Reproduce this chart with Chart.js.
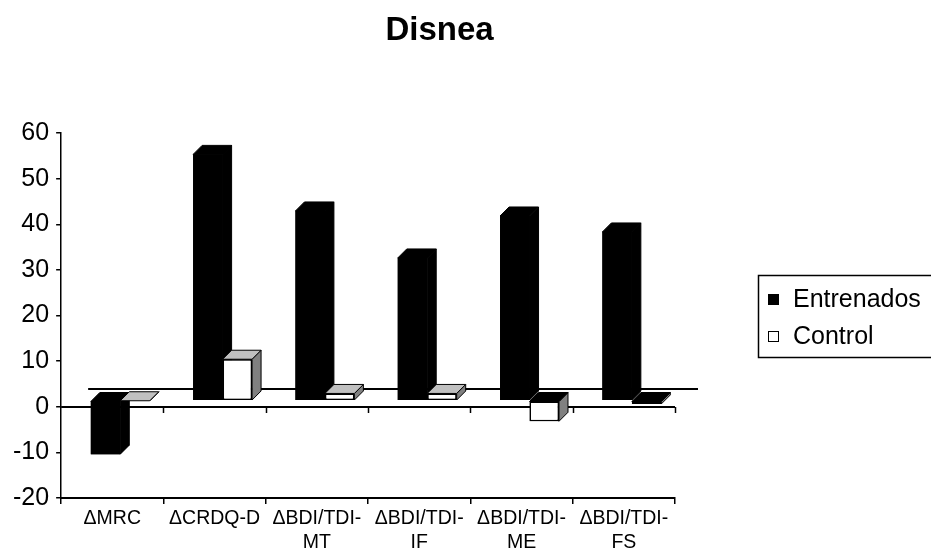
<!DOCTYPE html>
<html>
<head>
<meta charset="utf-8">
<script src="https://cdn.jsdelivr.net/npm/chart.js@4.4.0/dist/chart.umd.min.js"></script>
<style>
html,body{margin:0;padding:0;background:#fff;}
#wrap{width:931px;height:553px;}
</style>
</head>
<body>
<div id="wrap"><canvas id="c" width="931" height="553"></canvas></div>
<script>
// ---- data ----
const chartTitle = "Disnea";
const categories = [["ΔMRC"], ["ΔCRDQ-D"], ["ΔBDI/TDI-", "MT"], ["ΔBDI/TDI-", "IF"], ["ΔBDI/TDI-", "ME"], ["ΔBDI/TDI-", "FS"]];
const seriesNames = ["Entrenados", "Control"];
const entrenados = [-11.7, 54.0, 41.6, 31.3, 40.5, 37.0];
const control = [0, 9.1, 1.6, 1.6, -4.5, -0.7];
const yMin = -20, yMax = 60, yStep = 10;

// ---- styling ----
const FONT = "'Liberation Sans', Arial, sans-serif";
const SHIFT = {dx: 8, dy: -6};   // front face offset of bars (3D depth placement)
const DEPTH = {dx: 9, dy: -9};   // bar depth
const faceColors = [
  {top: '#000000', side: '#000000', capNeg: '#000000'},
  {top: '#c0c0c0', side: '#808080', capNeg: '#000000'}
];

function poly(ctx, pts, fill) {
  ctx.beginPath();
  ctx.moveTo(pts[0][0], pts[0][1]);
  for (let i = 1; i < pts.length; i++) ctx.lineTo(pts[i][0], pts[i][1]);
  ctx.closePath();
  ctx.fillStyle = fill;
  ctx.fill();
  ctx.stroke();
}

const threeD = {
  id: 'threeD',
  beforeDatasetsDraw(chart) {
    const ctx = chart.ctx, a = chart.chartArea, ys = chart.scales.y, xs = chart.scales.x;
    const y0 = Math.round(ys.getPixelForValue(0));
    ctx.save();
    ctx.strokeStyle = '#000';
    ctx.lineWidth = 2;
    // back edge of floor
    ctx.beginPath();
    ctx.moveTo(a.left + 27, y0 - 18);
    ctx.lineTo(a.right + 23, y0 - 18);
    ctx.stroke();
    // zero line (front edge of floor)
    ctx.beginPath();
    ctx.moveTo(a.left, y0);
    ctx.lineTo(a.right, y0);
    ctx.stroke();
    ctx.lineWidth = 1.5;
    for (let i = 0; i < categories.length; i++) {
      const px = Math.round(xs.getPixelForValue(i + 0.5)) + 0.5;
      ctx.beginPath();
      ctx.moveTo(px, y0);
      ctx.lineTo(px, y0 + 6);
      ctx.stroke();
    }
    ctx.restore();
  },
  beforeDatasetDraw() { return false; },
  afterDatasetsDraw(chart) {
    const ctx = chart.ctx;
    ctx.save();
    ctx.translate(SHIFT.dx, SHIFT.dy);
    chart.data.datasets.forEach((ds, di) => {
      const meta = chart.getDatasetMeta(di);
      const fc = faceColors[di];
      meta.data.forEach((el, i) => {
        el.draw(ctx);
        const p = el.getProps(['x', 'y', 'base', 'width'], true);
        const l = p.x - p.width / 2, r = p.x + p.width / 2;
        const v = ds.data[i];
        const top = Math.min(p.y, p.base), bot = Math.max(p.y, p.base);
        ctx.strokeStyle = '#000';
        ctx.lineWidth = 1;
        ctx.lineJoin = 'round';
        // side face
        poly(ctx, [[r, top], [r + DEPTH.dx, top + DEPTH.dy], [r + DEPTH.dx, bot + DEPTH.dy], [r, bot]], fc.side);
        // top face (at value for positive, at base for negative)
        poly(ctx, [[l, top], [l + DEPTH.dx, top + DEPTH.dy], [r + DEPTH.dx, top + DEPTH.dy], [r, top]], v < 0 ? fc.capNeg : fc.top);
        el.draw(ctx);
      });
    });
    ctx.restore();
  }
};

const legendBox = {
  id: 'legendBox',
  afterDraw(chart) {
    const ctx = chart.ctx;
    ctx.save();
    ctx.strokeStyle = '#000';
    ctx.lineWidth = 1.5;
    ctx.strokeRect(758.5, 275.5, 190, 82);
    ctx.font = '25px ' + FONT;
    ctx.textBaseline = 'middle';
    ctx.textAlign = 'left';
    chart.data.datasets.forEach((ds, i) => {
      const cy = 300 + i * 37;
      ctx.fillStyle = ds.backgroundColor;
      ctx.fillRect(768, cy - 6, 11, 11);
      ctx.lineWidth = 1;
      ctx.strokeRect(768.5, cy - 5.5, 10, 10);
      ctx.fillStyle = '#000';
      ctx.fillText(ds.label, 793, cy);
    });
    ctx.restore();
  }
};

new Chart(document.getElementById('c'), {
  type: 'bar',
  data: {
    labels: categories,
    datasets: [
      {label: seriesNames[0], data: entrenados, backgroundColor: '#000000', borderColor: '#000000', borderWidth: 0},
      {label: seriesNames[1], data: control, backgroundColor: '#ffffff', borderColor: '#000000', borderWidth: 1.5, borderSkipped: false}
    ]
  },
  options: {
    responsive: false,
    animation: false,
    devicePixelRatio: 1,
    categoryPercentage: 0.576,
    barPercentage: 1.0,
    layout: {padding: {left: 6, right: 58, top: 0, bottom: -5}},
    plugins: {
      legend: {display: false},
      tooltip: {enabled: false},
      title: {
        display: true,
        text: chartTitle,
        color: '#000',
        font: {family: FONT, size: 33, weight: 'bold', lineHeight: 1.2},
        padding: {top: 11, bottom: 82.4}
      }
    },
    scales: {
      x: {
        ticks: {color: '#000', font: {family: FONT, size: 19.5, lineHeight: '24px'}, padding: 3, maxRotation: 0, autoSkip: false},
        grid: {offset: true, drawOnChartArea: false, color: '#000', tickLength: 6, lineWidth: 1.5},
        border: {display: true, color: '#000', width: 2}
      },
      y: {
        min: yMin, max: yMax,
        ticks: {stepSize: yStep, color: '#000', font: {family: FONT, size: 25}, padding: 7},
        grid: {drawOnChartArea: false, color: '#000', tickLength: 5, lineWidth: 1.5},
        border: {display: true, color: '#000', width: 1.5}
      },
      yR: {
        position: 'right',
        display: true,
        ticks: {display: false},
        grid: {display: false},
        border: {display: false},
        afterFit(scale) { scale.width = 198; }
      }
    }
  },
  plugins: [threeD, legendBox]
});
</script>
</body>
</html>
